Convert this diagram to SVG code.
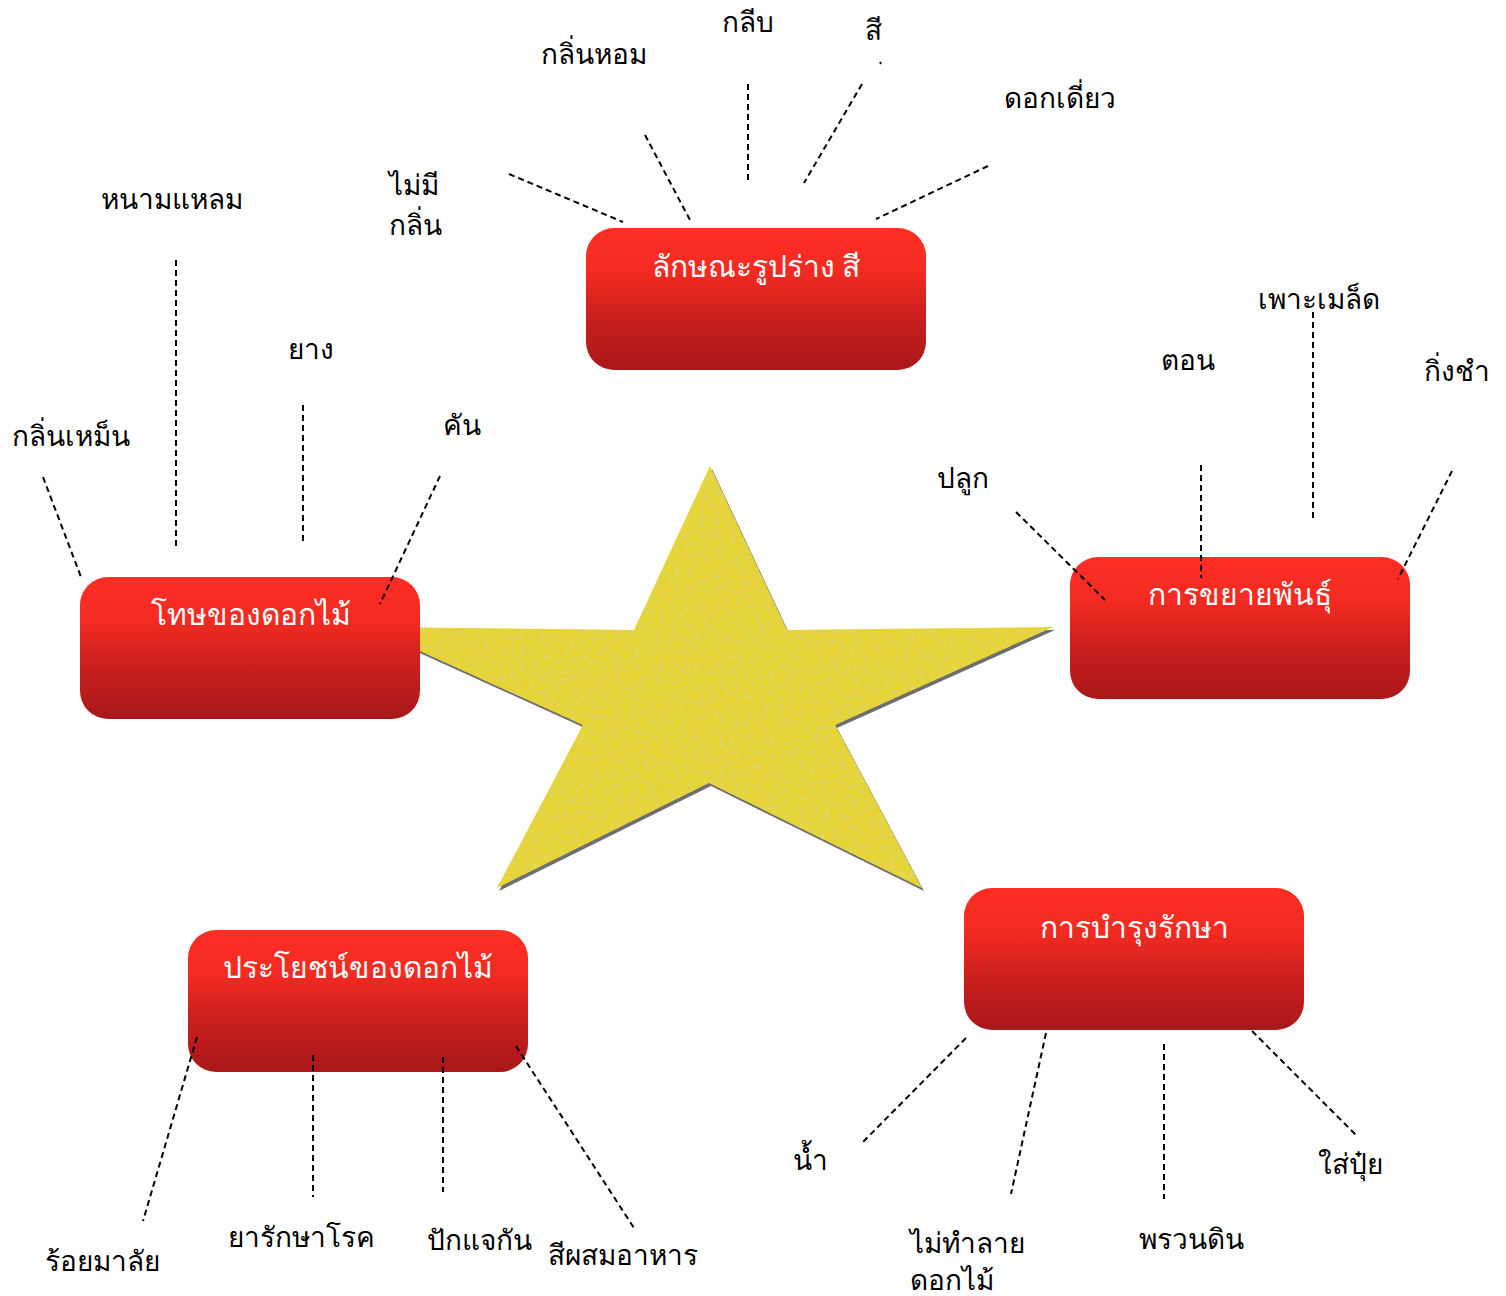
<svg xmlns="http://www.w3.org/2000/svg" width="1506" height="1296" viewBox="0 0 1506 1296">
<style>
.box{fill:url(#redGrad)}
.title{fill:#ffffff;font-family:"Noto Sans","DejaVu Sans",sans-serif;font-size:30px;text-anchor:middle}
.lbl{fill:#000000;font-family:"Noto Sans","DejaVu Sans",sans-serif;font-size:28px}
.conn line,.conn path{stroke:#000;stroke-width:2;stroke-dasharray:6 4;fill:none}
</style>
<defs>
<linearGradient id="redGrad" x1="0" y1="0" x2="0" y2="1">
<stop offset="0" stop-color="#fe2e24"/>
<stop offset="0.3" stop-color="#f32b22"/>
<stop offset="0.65" stop-color="#c81f1d"/>
<stop offset="1" stop-color="#a91719"/>
</linearGradient>
<filter id="felt" x="0" y="0" width="100%" height="100%">
<feTurbulence type="fractalNoise" baseFrequency="0.2" numOctaves="3" seed="4" result="noise"/>
<feColorMatrix in="noise" type="matrix" values="0 0 0 0 0.74  0 0 0 0 0.66  0 0 0 0 0.12  3 0 0 0 -1.35" result="spots"/>
<feComposite in="spots" in2="SourceGraphic" operator="in" result="clipped"/>
<feMerge><feMergeNode in="SourceGraphic"/><feMergeNode in="clipped"/></feMerge>
</filter>
</defs>
<rect width="1506" height="1296" fill="#ffffff"/>
<g id="star">
<polygon points="712,469 789,633 1055,630 837,728 924,891 711,786 499,891 585,728 369,630 636,633" fill="#6e6e6e"/>
<polygon points="710,466 787,630 1053,627 835,725 922,888 709,783 497,888 583,725 367,627 634,630" fill="#e7d433" filter="url(#felt)"/>
</g>
<g id="node-shape">
<rect class="box" x="586" y="228" width="340" height="142" rx="28"/>
<text class="title" x="756" y="277">ลักษณะรูปร่าง สี</text>
</g>
<g id="node-harm">
<rect class="box" x="80" y="577" width="340" height="142" rx="28"/>
<text class="title" x="251" y="625">โทษของดอกไม้</text>
</g>
<g id="node-propagation">
<rect class="box" x="1070" y="557" width="340" height="142" rx="28"/>
<text class="title" x="1240" y="605">การขยายพันธุ์</text>
</g>
<g id="node-care">
<rect class="box" x="964" y="888" width="340" height="142" rx="28"/>
<text class="title" x="1134" y="938">การบำรุงรักษา</text>
</g>
<g id="node-benefit">
<rect class="box" x="188" y="930" width="340" height="142" rx="28"/>
<text class="title" x="358" y="978">ประโยชน์ของดอกไม้</text>
</g>
<g id="labels">
<text class="lbl" x="541" y="64">กลิ่นหอม</text>
<text class="lbl" x="722" y="32">กลีบ</text>
<text class="lbl" x="865" y="40">สี</text>
<text class="lbl" x="1004" y="108">ดอกเดี่ยว</text>
<text class="lbl" x="389" y="195">ไม่มี</text>
<text class="lbl" x="389" y="235">กลิ่น</text>
<text class="lbl" x="101" y="209">หนามแหลม</text>
<text class="lbl" x="288" y="359">ยาง</text>
<text class="lbl" x="12" y="446">กลิ่นเหม็น</text>
<text class="lbl" x="443" y="435">คัน</text>
<text class="lbl" x="937" y="488">ปลูก</text>
<text class="lbl" x="1161" y="370">ตอน</text>
<text class="lbl" x="1258" y="309">เพาะเมล็ด</text>
<text class="lbl" x="1424" y="381">กิ่งชำ</text>
<text class="lbl" x="793" y="1170">น้ำ</text>
<text class="lbl" x="910" y="1253">ไม่ทำลาย</text>
<text class="lbl" x="910" y="1290">ดอกไม้</text>
<text class="lbl" x="1139" y="1249">พรวนดิน</text>
<text class="lbl" x="1318" y="1174">ใส่ปุ๋ย</text>
<text class="lbl" x="45" y="1271">ร้อยมาลัย</text>
<text class="lbl" x="228" y="1247">ยารักษาโรค</text>
<text class="lbl" x="427" y="1250">ปักแจกัน</text>
<text class="lbl" x="548" y="1265">สีผสมอาหาร</text>
</g>
<g id="connectors" class="conn">
<line x1="509" y1="174" x2="623" y2="222"/>
<line x1="645" y1="135" x2="690" y2="220"/>
<line x1="748" y1="84" x2="748" y2="183"/>
<path d="M880,62 L881,64 M862,84 L804,183"/>
<line x1="988" y1="166" x2="876" y2="219"/>
<line x1="176" y1="260" x2="176" y2="548"/>
<line x1="303" y1="405" x2="303" y2="545"/>
<line x1="43" y1="477" x2="81" y2="577"/>
<line x1="440" y1="476" x2="380" y2="604"/>
<line x1="1016" y1="512" x2="1105" y2="600"/>
<line x1="1201" y1="465" x2="1201" y2="578"/>
<line x1="1313" y1="312" x2="1313" y2="522"/>
<line x1="1452" y1="471" x2="1398" y2="579"/>
<line x1="966" y1="1038" x2="863" y2="1142"/>
<line x1="1046" y1="1033" x2="1011" y2="1194"/>
<line x1="1164" y1="1044" x2="1164" y2="1199"/>
<line x1="1252" y1="1031" x2="1358" y2="1137"/>
<line x1="197" y1="1037" x2="143" y2="1221"/>
<line x1="313" y1="1055" x2="313" y2="1197"/>
<line x1="443" y1="1057" x2="443" y2="1192"/>
<line x1="516" y1="1046" x2="634" y2="1228"/>
</g>
</svg>
